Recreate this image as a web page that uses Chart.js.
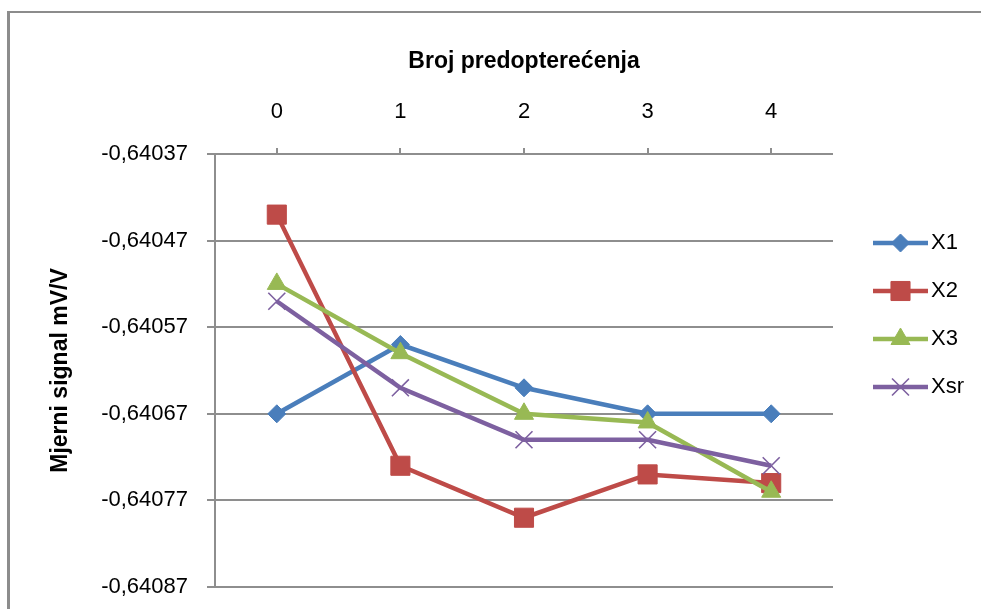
<!DOCTYPE html>
<html>
<head>
<meta charset="utf-8">
<script src="https://cdn.jsdelivr.net/npm/chart.js@4.4.1/dist/chart.umd.min.js"></script>
<style>
  html, body { margin: 0; padding: 0; background: #fff; overflow: hidden; }
  #wrap { position: relative; width: 981px; height: 609px; overflow: hidden; }
  #frame {
    position: absolute; left: 7px; top: 11px; width: 2000px; height: 2000px;
    border-left: 3px solid #8c8c8c; border-top: 2px solid #8c8c8c;
  }
  #chart { position: absolute; left: 0; top: 0; }
</style>
</head>
<body>
<div id="wrap">
  <div id="frame"></div>
  <canvas id="chart" width="981" height="609"></canvas>
</div>
<script>
// podaci
const categories = ['0', '1', '2', '3', '4'];
const seriesNames = ['X1', 'X2', 'X3', 'Xsr'];
const x1Values = [-0.64067, -0.64059, -0.64064, -0.64067, -0.64067];
const x2Values = [-0.64044, -0.64073, -0.64079, -0.64074, -0.64075];
const x3Values = [-0.64052, -0.64060, -0.64067, -0.64068, -0.64076];
const xsrValues = [-0.64054, -0.64064, -0.64070, -0.64070, -0.64073];
const yTickValues = [-0.64087, -0.64077, -0.64067, -0.64057, -0.64047, -0.64037];

const xTitle = 'Broj predopterećenja';
const yTitle = 'Mjerni signal mV/V';

// izgled serija
const colors = ['#4A7EBB', '#BE4B48', '#98B954', '#7D60A0'];
const markers = [
  { style: 'rectRot', radius: 9, fill: true, border: 1 },
  { style: 'rect', radius: 13.5, fill: true, border: 1 },
  { style: 'triangle', radius: 11, fill: true, border: 1 },
  { style: 'crossRot', radius: 12, fill: false, border: 1.6 }
];
const gridColor = '#8e8e8e';
const fontFamily = '"Liberation Sans", Arial, sans-serif';

Chart.defaults.font.family = fontFamily;
Chart.defaults.color = '#000';

// ikona za legendu: linija + marker
function legendIcon(i) {
  const c = document.createElement('canvas');
  c.width = 77;
  c.height = 26;
  const ctx = c.getContext('2d');
  ctx.strokeStyle = colors[i];
  ctx.lineWidth = 4.5;
  ctx.beginPath();
  ctx.moveTo(22, 13);
  ctx.lineTo(77, 13);
  ctx.stroke();
  const m = markers[i];
  ctx.fillStyle = m.fill ? colors[i] : 'rgba(0,0,0,0)';
  ctx.strokeStyle = colors[i];
  ctx.lineWidth = m.border;
  Chart.helpers.drawPoint(ctx, { pointStyle: m.style, radius: m.radius, rotation: 0, borderWidth: m.border }, 49.5, 13);
  return c;
}

const allValues = [x1Values, x2Values, x3Values, xsrValues];
const datasets = allValues.map((vals, i) => ({
  label: seriesNames[i],
  data: vals,
  borderColor: colors[i],
  backgroundColor: colors[i],
  borderWidth: 4.5,
  tension: 0,
  fill: false,
  pointStyle: markers[i].style,
  pointRadius: markers[i].radius,
  pointHoverRadius: markers[i].radius,
  pointBackgroundColor: markers[i].fill ? colors[i] : 'rgba(0,0,0,0)',
  pointBorderColor: colors[i],
  pointBorderWidth: markers[i].border,
  order: allValues.length - i
}));

const icons = seriesNames.map((_, i) => legendIcon(i));

new Chart(document.getElementById('chart'), {
  type: 'line',
  data: { labels: categories, datasets: datasets },
  options: {
    responsive: false,
    animation: false,
    events: [],
    layout: { autoPadding: false, padding: { left: 10, top: 14, right: 7, bottom: 22 } },
    plugins: {
      tooltip: { enabled: false },
      legend: {
        position: 'right',
        align: 'start',
        fullSize: false,
        title: { display: true, text: '', font: { size: 10, lineHeight: 1 }, padding: { top: 42, bottom: 0 } },
        labels: {
          usePointStyle: true,
          pointStyleWidth: 61,
          padding: 26,
          font: { size: 22 },
          color: '#000',
          generateLabels: chart => chart.data.datasets.map((ds, i) => ({
            text: ds.label,
            pointStyle: icons[i],
            fillStyle: colors[i],
            strokeStyle: colors[i],
            lineWidth: 0,
            hidden: false,
            datasetIndex: i,
            fontColor: '#000'
          }))
        }
      }
    },
    scales: {
      x: {
        position: 'top',
        offset: true,
        grid: {
          offset: false,
          drawOnChartArea: false,
          drawTicks: true,
          tickLength: 6,
          color: gridColor,
          lineWidth: 2
        },
        border: { display: false },
        ticks: { font: { size: 22 }, padding: 23, color: '#000' },
        title: {
          display: true,
          text: xTitle,
          font: { size: 23, weight: 'bold' },
          padding: { top: 34, bottom: 0 },
          color: '#000'
        },
        afterFit: s => { s.height = 154 - 14; }
      },
      y: {
        min: -0.64087,
        max: -0.64037,
        afterBuildTicks: s => { s.ticks = yTickValues.map(v => ({ value: v })); },
        grid: {
          color: gridColor,
          lineWidth: 2,
          drawTicks: true,
          tickLength: 8
        },
        border: { display: true, color: gridColor, width: 2 },
        ticks: {
          font: { size: 22 },
          padding: 19,
          color: '#000',
          callback: v => v.toFixed(5).replace('.', ',')
        },
        title: {
          display: true,
          text: yTitle,
          font: { size: 23, weight: 'bold' },
          padding: { top: 37, bottom: 0 },
          color: '#000'
        },
        afterFit: s => {
          s.width = 215 - 10;
          s.paddingTop = 0;
          s.paddingBottom = 0;
        }
      }
    }
  }
});
</script>
</body>
</html>
